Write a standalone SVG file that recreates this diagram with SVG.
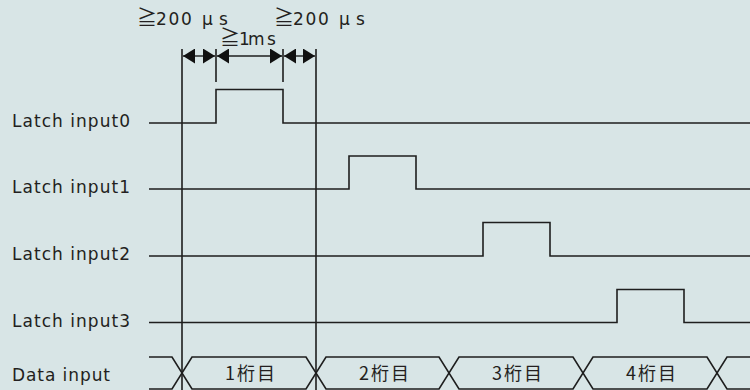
<svg xmlns="http://www.w3.org/2000/svg" width="750" height="390" viewBox="0 0 750 390">
<defs>
<style>
.bg{fill:#d8e5e6}
.ln{fill:none;stroke:#1e1e1e;stroke-width:1.6}
.lbl{font-family:"DejaVu Sans","Noto Sans CJK JP",sans-serif;font-size:17px;fill:#231f20}
.jp{font-family:"Noto Sans CJK JP","DejaVu Sans",sans-serif;font-size:18px;fill:#231f20}
.top{font-family:"DejaVu Sans","Noto Sans CJK JP",sans-serif;font-size:17px;fill:#231f20}
.ge{font-family:"Noto Sans CJK JP",sans-serif;font-size:20px}
.dim{fill:none;stroke:#1e1e1e;stroke-width:1.4}
</style>
<marker id="ah" markerUnits="userSpaceOnUse" markerWidth="13" markerHeight="15" refX="12" refY="7.5" orient="auto-start-reverse" viewBox="0 0 13 15">
<path d="M0,0 L12,7.5 L0,15 Z" fill="#111"/>
</marker>
</defs>
<rect class="bg" x="0" y="0" width="750" height="390"/>

<g id="latch0">
<text class="lbl" x="12" y="127" textLength="118" lengthAdjust="spacing">Latch input0</text>
<path class="ln" d="M149,123 H216 V89.5 H283 V123 H750"/>
</g>
<g id="latch1">
<text class="lbl" x="12" y="193" textLength="118" lengthAdjust="spacing">Latch input1</text>
<path class="ln" d="M149,189 H349 V156 H416 V189 H750"/>
</g>
<g id="latch2">
<text class="lbl" x="12" y="260" textLength="118" lengthAdjust="spacing">Latch input2</text>
<path class="ln" d="M149,256 H483 V222.5 H550 V256 H750"/>
</g>
<g id="latch3">
<text class="lbl" x="12" y="327" textLength="118" lengthAdjust="spacing">Latch input3</text>
<path class="ln" d="M149,322.5 H617 V289.5 H684 V322.5 H750"/>
</g>
<g id="data">
<text class="lbl" x="12" y="381" textLength="98" lengthAdjust="spacing">Data input</text>
<path class="ln" d="M149,357 H172 L192,389 H306 L326,357 H439 L459,389 H573 L593,357 H707 L727,389 H750"/>
<path class="ln" d="M149,389 H172 L192,357 H306 L326,389 H439 L459,357 H573 L593,389 H707 L727,357 H750"/>
<text class="jp" x="250" y="380" text-anchor="middle" textLength="50" lengthAdjust="spacing">1桁目</text>
<text class="jp" x="384" y="380" text-anchor="middle" textLength="50" lengthAdjust="spacing">2桁目</text>
<text class="jp" x="517" y="380" text-anchor="middle" textLength="50" lengthAdjust="spacing">3桁目</text>
<text class="jp" x="651" y="380" text-anchor="middle" textLength="50" lengthAdjust="spacing">4桁目</text>
</g>

<g id="connectors">
<path class="ln" d="M182,49 V390 M316,49 V390 M216,49 V82 M283,49 V82"/>
<line class="dim" x1="183" y1="56" x2="215" y2="56" marker-start="url(#ah)" marker-end="url(#ah)"/>
<line class="dim" x1="217" y1="56" x2="282" y2="56" marker-start="url(#ah)" marker-end="url(#ah)"/>
<line class="dim" x1="284" y1="56" x2="315" y2="56" marker-start="url(#ah)" marker-end="url(#ah)"/>
</g>
<g id="dim-labels">
<text class="top" y="25"><tspan class="ge" x="137">≧</tspan><tspan x="156 168.5 181 202 219">200μs</tspan></text>
<text class="top" y="45"><tspan class="ge" x="220">≧</tspan><tspan x="239 248 267">1ms</tspan></text>
<text class="top" y="25"><tspan class="ge" x="274">≧</tspan><tspan x="293 305.5 318 339 356">200μs</tspan></text>
</g>
</svg>
